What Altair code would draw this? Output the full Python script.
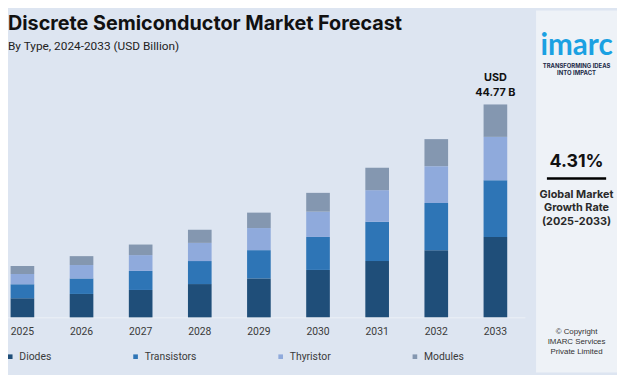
import altair as alt
import pandas as pd

# ---- data ----
years = ["2025", "2026", "2027", "2028", "2029", "2030", "2031", "2032", "2033"]
diodes = [4.03, 4.92, 5.76, 7.00, 8.19, 9.97, 11.84, 14.13, 16.91]
transistors = [2.91, 3.26, 4.01, 4.84, 5.94, 6.94, 8.25, 9.91, 11.91]
thyristor = [2.20, 2.82, 3.32, 3.82, 4.65, 5.32, 6.65, 7.75, 9.14]
modules = [1.66, 1.87, 2.22, 2.76, 3.24, 3.95, 4.72, 5.69, 6.81]
types = ["Diodes", "Transistors", "Thyristor", "Modules"]
colors = ["#1f4e79", "#2e75b6", "#8faadc", "#8497b0"]

title_text = "Discrete Semiconductor Market Forecast"
subtitle_text = "By Type, 2024-2033 (USD Billion)"
cagr_text = "4.31%"

series = [diodes, transistors, thyristor, modules]
rows = []
for ti, (t, vals) in enumerate(zip(types, series)):
    for y, v in zip(years, vals):
        rows.append({"Year": y, "Type": t, "Value": v, "Idx": ti})
df = pd.DataFrame(rows)

total_last = round(sum(s[-1] for s in series), 2)
ann_df = pd.DataFrame({"Year": [years[-1]], "Total": [total_last],
                       "Label": [f"USD\n{total_last:.2f} B"]})

W, H = 617, 251
TOP = 60
PC = 576  # centre of the side panel

x_scale = alt.Scale(range=[-15.35, 523.75], paddingInner=0.6, paddingOuter=0.3)
y_scale = alt.Scale(domain=[0, 52.1], nice=False, zero=True)

bars = alt.Chart(df).mark_bar().encode(
    x=alt.X("Year:O", scale=x_scale, sort=years,
            axis=alt.Axis(title=None, labelAngle=0, ticks=False, tickSize=0,
                          labelPadding=9, labelFont="Roboto", labelFontSize=10.5,
                          labelColor="#3a3a3a", domainColor="#edf1f7",
                          domainWidth=1, grid=False)),
    y=alt.Y("Value:Q", stack="zero", scale=y_scale, axis=None),
    color=alt.Color("Type:N", scale=alt.Scale(domain=types, range=colors),
                    legend=alt.Legend(title=None, orient="none", legendX=-3,
                                      legendY=285.5, direction="horizontal",
                                      columns=4, symbolType="square",
                                      symbolSize=22, symbolStrokeWidth=0,
                                      labelFont="Roboto", labelFontSize=10.5,
                                      labelColor="#3a3a3a", labelOffset=4,
                                      columnPadding=80, padding=0)),
    order=alt.Order("Idx:Q", sort="ascending"),
)

ann = alt.Chart(ann_df).mark_text(
    align="center", baseline="bottom", dy=-22, fontSize=11, fontWeight="bold",
    font="Inter", color="#111111", lineBreak="\n", lineHeight=15.5
).encode(
    x=alt.X("Year:O", scale=x_scale, sort=years),
    y=alt.Y("Total:Q", scale=y_scale),
    text="Label:N",
)


def label(text, x, y, size, weight="normal", font="Inter", color="#111111",
          baseline="alphabetic", align="left", line_height=None):
    kw = dict(align=align, baseline=baseline, fontSize=size, fontWeight=weight,
              font=font, color=color, lineBreak="\n")
    if line_height:
        kw["lineHeight"] = line_height
    return alt.Chart(pd.DataFrame({"t": [text]})).mark_text(**kw).encode(
        x=alt.value(x), y=alt.value(y), text="t:N")


title = label(title_text, 0, 20.3 - TOP, 20, "bold", "Inter", "#111111")
subtitle = label(subtitle_text, 0, 40.3 - TOP, 12, "normal", "Roboto", "#222222")

panel = alt.Chart(pd.DataFrame({"p": [1]})).mark_rect(color="#eef2f7").encode(
    x=alt.value(535), x2=alt.value(W), y=alt.value(-TOP), y2=alt.value(307)
)

logo = label("imarc", PC, -15, 30, "bold", "Lato", "#1ba1e2", align="center")
tagline = label("TRANSFORMING IDEAS\nINTO IMPACT", PC, -4, 6, "bold", "Inter",
                "#1c2a48", "middle", "center", 7.5)
cagr = label(cagr_text, PC, 98.7, 18, "bold", "Inter", "#111111", align="center")
rule = alt.Chart(pd.DataFrame({"p": [1]})).mark_rule(color="#000000", strokeWidth=2.5).encode(
    x=alt.value(546), x2=alt.value(606), y=alt.value(110.3)
)
growth = label("Global Market\nGrowth Rate\n(2025-2033)", PC, 127, 11, "bold", "Inter",
               "#2a2a2a", "middle", "center", 13.5)
copy = label("\u00a9 Copyright\nIMARC Services\nPrivate Limited", PC, 266, 8, "normal",
             "Liberation Sans", "#333333", "middle", "center", 10)

chart = alt.layer(
    panel, bars, ann, title, subtitle, logo, tagline, cagr, rule, growth, copy
).properties(
    width=W, height=H,
    autosize=alt.AutoSizeParams(type="none"),
    padding={"left": 0, "top": TOP, "right": 0, "bottom": 56},
).configure(background="#dde5f1").configure_view(stroke=None)

chart.save("out.html", embed_options={"renderer": "svg", "actions": False})
